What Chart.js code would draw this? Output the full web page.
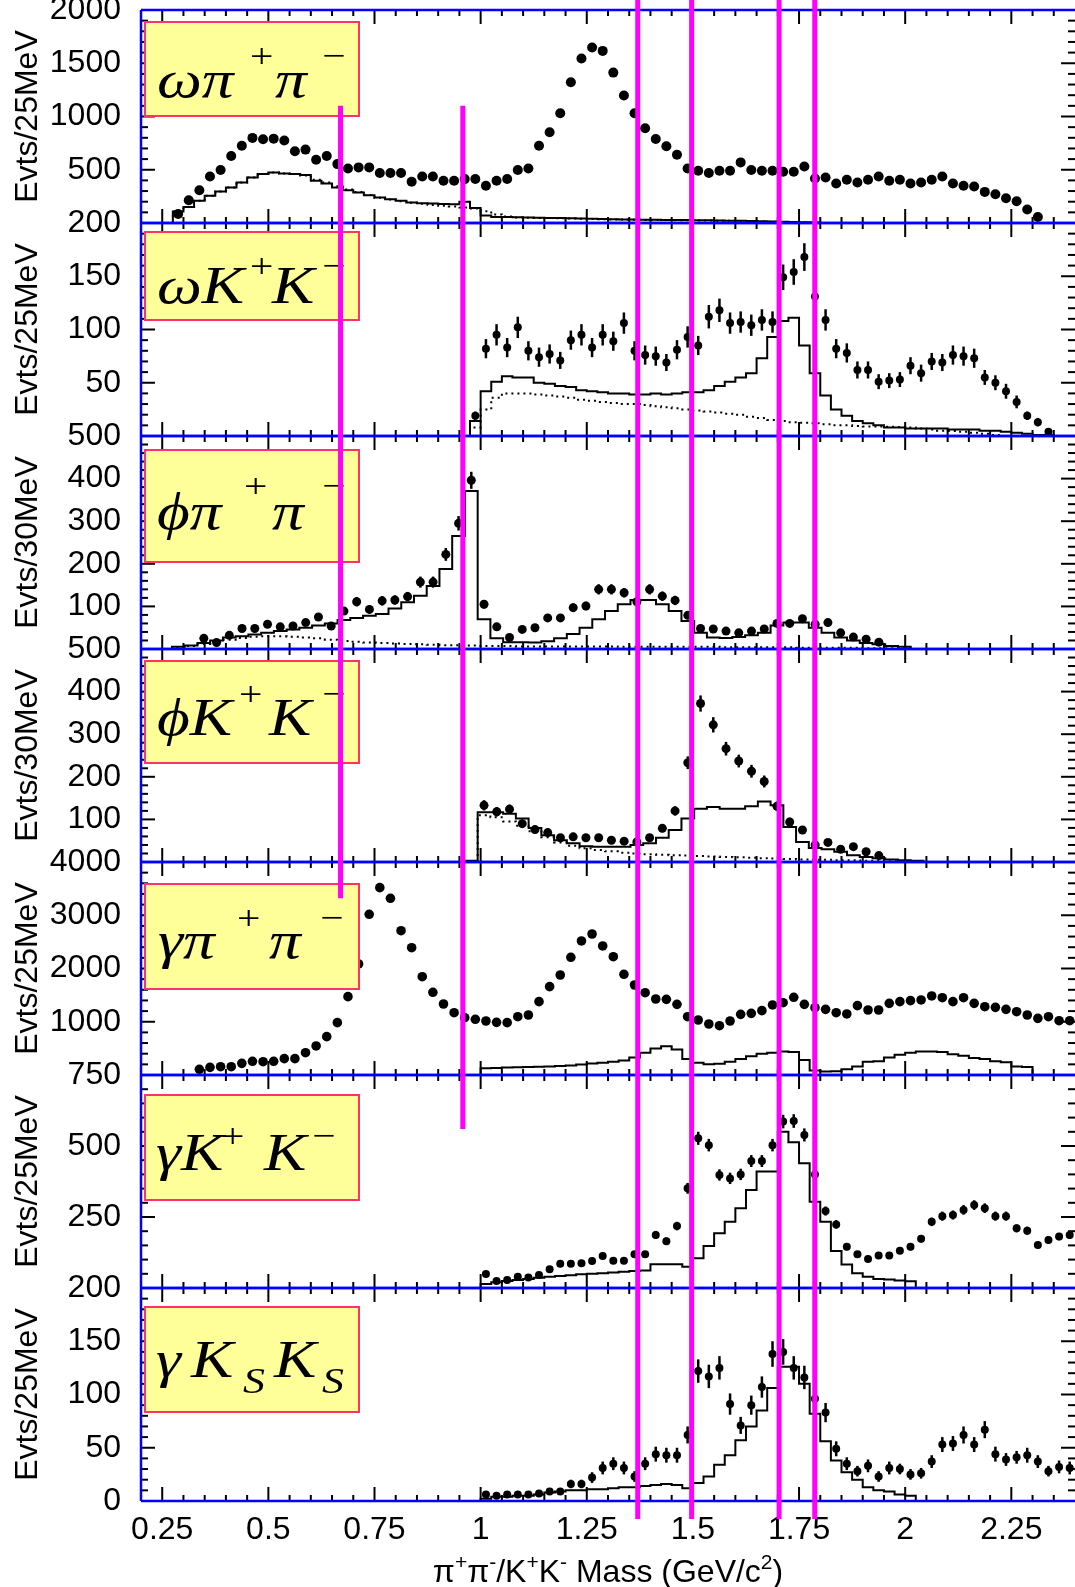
<!DOCTYPE html>
<html>
<head>
<meta charset="utf-8">
<script src="https://cdn.jsdelivr.net/npm/chart.js@4/dist/chart.umd.min.js"></script>
<style>
  html, body { margin: 0; padding: 0; background: #fff; overflow: hidden; }
</style>
</head>
<body>
<canvas id="massChart" width="1075" height="1587"></canvas>
<script>
// ---------------- data ----------------
var massTicks = [0.25, 0.5, 0.75, 1, 1.25, 1.5, 1.75, 2, 2.25];
var markMass = [0.67, 0.958, 1.37, 1.497, 1.703, 1.787];

// omega pi+ pi-  (25 MeV)
var omPiPiCounts = [85,214,308,437,497,629,726,799,786,792,
  774,673,689,594,629,553,512,522,522,469,
  469,469,387,437,437,396,396,412,413,349,
  396,413,497,512,726,852,1031,1321,1544,1648,
  1616,1412,1198,1031,890,789,720,641,512,491,
  469,491,491,569,497,491,491,481,481,531,
  418,427,371,406,380,406,437,396,406,371,
  380,406,437,371,349,343,292,270,233,204,
  126,57];
var omPiPiFit = [107,151,208,255,295,333,380,428,459,475,
  465,459,450,396,371,333,308,286,261,239,
  223,208,192,185,182,178,176,200,140,70,
  57,56,54,52,50,48,46,44,42,40,
  37,35,33,32,31,30,29,28,27,26,
  25,24,22,20,18,16,14,12,10,8,5];
var omPiPiBkg = [107,151,208,255,295,333,380,428,459,475,
  465,459,445,405,380,345,315,290,262,238,
  220,205,190,180,170,162,155,145,135,110,
  80,60,52,50,48,46,44,42,40,38,
  36,34,32,30,29,28,27,26,25,24,
  23,22,20,18,16,14,12,10,8,6,4];

// omega K+ K-  (25 MeV)
var omKKCounts = [19,82,95,83,102,80,74,77,71,90,
  95,83,95,89,106,80,76,75,69,81,
  93,85,112,118,106,107,104,109,107,149,
  154,168,131,109,82,78,62,62,51,52,
  53,66,59,70,69,76,75,73,55,50,
  42,32,19,13,4];
var omKKErr = [4,9,10,9,10,9,9,9,8,9,
  10,9,10,9,10,9,9,9,8,9,
  10,9,11,11,10,10,10,10,10,12,
  12,13,11,10,9,9,8,8,7,7,
  7,8,8,8,8,9,9,9,7,7,
  7,6,4,4,2];
var omKKFit = [14,42,51,56,55,55,50,49,47,46,
  43,42,41,40,40,39,39,40,39,40,
  41,41,43,47,51,55,59,73,93,108,
  111,85,59,38,25,19,14,12,10,8,
  8,7,7,7,7,6,6,6,5,5,4,3,2,1,1];
var omKKBkg = [8,25,36,40,40,40,39,38,37,36,
  34,33,32,31,30,30,29,28,27,26,
  25,24,23,22,21,20,18,17,15,14,
  13,12.5,12,11,10,10,9.5,9,9,8.7,
  8.5,8,7,6,5,4.7,4,3,2,1];

// phi pi+ pi-  (30 MeV)
var phiPiPiCounts = [25,15,32,48,48,58,52,54,62,75,
  54,89,111,93,113,115,123,157,157,222,
  295,396,105,52,27,46,50,73,73,97,
  101,140,140,132,111,140,124,114,79,48,
  47,42,38,42,47,60,60,71,58,62,
  38,28,23,16];
var phiPiPiErr = [5,4,6,7,7,8,7,7,8,9,
  7,9,11,10,11,11,11,13,13,15,
  17,20,10,7,5,7,7,9,9,10,
  10,12,12,11,11,12,11,11,9,7,
  7,6,6,6,7,8,8,8,8,8,
  6,5,5,4];
var phiPiPiFit = [5,8,14,20,27,30,34,38,42,46,
  50,55,60,68,73,78,82,95,110,125,
  148,188,265,371,70,25,16,16,15,18,
  25,35,50,70,89,105,115,115,105,89,
  66,38,27,26,28,32,38,55,62,62,
  50,38,27,20,14,11,7,5];
var phiPiPiBkg = [4,7,12,17,22,26,29,30,30,29,
  27,25,22,19,17,15,14,13,12,11,
  10,9,9,8,7,7,7,6,6,6,
  6,6,6,6,6,5,5,5,5,5,
  5,5,5,4,4,4,4,4,4,3,
  3,3,3,3,2,2,2,2];

// phi K+ K-  (30 MeV)
var phiKKCounts = [133,118,124,90,76,69,57,59,57,57,
  51,49,47,57,79,120,233,372,322,266,
  237,213,189,131,94,75,40,46,30,36,
  24,15];
var phiKKErr = [12,11,11,9,9,8,8,8,8,8,
  7,7,7,8,9,11,15,19,18,16,
  15,15,14,11,10,9,6,7,5,6,
  5,4];
var phiKKFit = [3,117,117,113,102,80,63,51,44,37,
  36,36,36,40,44,57,75,102,125,129,
  125,125,131,142,133,82,47,33,30,24,
  16,12,9,6,4,3];
var phiKKBkg = [110,105,95,85,72,58,46,38,32,28,
  25,22,20,18,17,16,15,14,13,12,
  11,10,9,8,7,6,5,5,4,4,
  3,3,2,2];

// gamma pi+ pi-  (25 MeV)
var gamPiPiCounts = [107,144,156,156,219,257,250,257,307,307,
  419,545,720,983,1471,2085,3018,3518,3318,2710,
  2391,1846,1553,1333,1170,1076,1046,1014,989,983,
  1095,1127,1377,1659,1878,2210,2517,2648,2423,2222,
  1891,1690,1546,1427,1421,1327,1095,1033,958,926,
  1014,1139,1158,1208,1315,1358,1459,1327,1264,1233,
  1170,1146,1302,1221,1221,1346,1377,1396,1409,1484,
  1452,1377,1452,1346,1283,1270,1233,1189,1127,1064,
  1095,1020,1020];
var gamPiPiFit = [125,130,140,145,150,155,160,170,180,195,
  215,230,250,270,330,420,500,540,480,300,
  230,200,210,250,300,350,400,420,440,430,
  280,85,65,70,110,160,250,260,330,380,
  420,440,440,430,390,360,320,300,260,240,
  160,150];

// gamma K+ K-  (25 MeV)
var gamKKCounts = [49,25,28,40,37,46,66,85,85,87,
  95,113,96,96,119,119,187,165,218,351,
  527,503,398,386,400,447,447,503,586,588,
  539,400,271,224,145,119,102,114,114,131,
  145,173,233,253,257,275,292,281,253,253,
  210,202,151,169,181,187];
var gamKKErr = [7,5,5,6,6,7,8,9,9,9,
  10,11,10,10,11,11,14,13,15,19,
  23,22,20,20,20,21,21,22,24,24,
  23,20,16,15,12,11,10,11,11,11,
  12,13,15,16,16,17,17,17,16,16,
  14,14,12,13,13,14];
var gamKKFit = [14,20,25,28,32,36,40,42,45,48,
  50,52,55,57,60,62,84,84,84,75,
  105,148,193,233,281,345,410,410,550,513,
  439,304,233,130,83,52,40,32,30,26,24];

// gamma Ks Ks  (25 MeV)
var gamKsKsCounts = [6,5,6,6,6,7,9,9,16,16,
  22,31,35,31,23,35,44,43,43,62,
  122,117,125,91,71,90,107,138,140,125,
  116,96,83,49,35,28,33,23,31,30,
  25,26,37,53,54,62,53,67,44,39,
  41,43,37,28,32,31];
var gamKsKsErr = [2,2,2,2,2,3,3,3,4,4,
  5,6,6,6,5,6,7,7,7,8,
  11,11,11,10,8,9,10,12,12,11,
  11,10,9,7,6,5,6,5,6,5,
  5,5,6,7,7,8,7,8,7,6,
  6,7,6,5,6,6];
var gamKsKsFit = [2,4,4,5,5,6,8,9,10,10,
  11,11,12,13,13,14,15,16,15,12,
  17,23,34,43,57,70,85,106,126,126,
  110,82,56,38,27,20,13,10,9,6,5];

// ---------------- panels ----------------
var SANS = '"Liberation Sans", Arial, sans-serif';
var SERIF = '"Liberation Serif", "Times New Roman", serif';

var panels = [
  {axis: 'y1', max: 2000, ticks: [0, 500, 1000, 1500, 2000], minor: 100, unit: 'Evts/25MeV',
   bin: 0.025, first: 0.2875, counts: omPiPiCounts, err: null, radius: 5,
   fitEdge: 0.275, fit: omPiPiFit, bkgEdge: 0.275, bkg: omPiPiBkg},
  {axis: 'y2', max: 200, ticks: [0, 50, 100, 150, 200], minor: 10, unit: 'Evts/25MeV',
   bin: 0.025, first: 0.9875, counts: omKKCounts, err: omKKErr, radius: 4,
   fitEdge: 0.975, fit: omKKFit, bkgEdge: 0.975, bkg: omKKBkg},
  {axis: 'y3', max: 500, ticks: [0, 100, 200, 300, 400, 500], minor: 20, unit: 'Evts/30MeV',
   bin: 0.03, first: 0.348, counts: phiPiPiCounts, err: phiPiPiErr, radius: 4.5,
   fitEdge: 0.273, fit: phiPiPiFit, bkgEdge: 0.273, bkg: phiPiPiBkg},
  {axis: 'y4', max: 500, ticks: [0, 100, 200, 300, 400, 500], minor: 20, unit: 'Evts/30MeV',
   bin: 0.03, first: 1.008, counts: phiKKCounts, err: phiKKErr, radius: 4.5,
   fitEdge: 0.963, fit: phiKKFit, bkgEdge: 0.993, bkg: phiKKBkg},
  {axis: 'y5', max: 4000, ticks: [0, 1000, 2000, 3000, 4000], minor: 200, unit: 'Evts/25MeV',
   bin: 0.025, first: 0.3375, counts: gamPiPiCounts, err: null, radius: 4.8,
   fitEdge: 1.0, fit: gamPiPiFit, bkgEdge: null, bkg: null},
  {axis: 'y6', max: 750, ticks: [0, 250, 500, 750], minor: 50, unit: 'Evts/25MeV',
   bin: 0.025, first: 1.0125, counts: gamKKCounts, err: gamKKErr, radius: 4,
   fitEdge: 1.0, fit: gamKKFit, bkgEdge: null, bkg: null},
  {axis: 'y7', max: 200, ticks: [0, 50, 100, 150, 200], minor: 10, unit: 'Evts/25MeV',
   bin: 0.025, first: 1.0125, counts: gamKsKsCounts, err: gamKsKsErr, radius: 4,
   fitEdge: 1.0, fit: gamKsKsFit, bkgEdge: null, bkg: null}
];

// channel label boxes: offsets inside each panel (px)
var boxes = [
  {top: 12, h: 94, base: 87, raise: 30, parts: [['ωπ', 16], ['+', 109, 'sup'], ['π', 134], ['−', 181, 'sup']]},
  {top: 9, h: 88, base: 80, raise: 26, parts: [['ωK', 16], ['+', 109, 'sup'], ['K', 131], ['−', 181, 'sup']]},
  {top: 14, h: 112, base: 93, raise: 32, parts: [['ϕπ', 16], ['+', 103, 'sup'], ['π', 131], ['−', 181, 'sup']]},
  {top: 12, h: 102, base: 86, raise: 30, parts: [['ϕK', 16], ['+', 98, 'sup'], ['K', 128], ['−', 181, 'sup']]},
  {top: 22, h: 105, base: 96, raise: 29, parts: [['γπ', 17], ['+', 96, 'sup'], ['π', 128], ['−', 179, 'sup']]},
  {top: 20, h: 105, base: 95, raise: 23, parts: [['γK', 15], ['+', 80, 'sup'], ['K', 123], ['−', 171, 'sup']]},
  {top: 19, h: 105, base: 89, raise: -16, parts: [['γ', 15], ['K', 50], ['S', 102, 'sub'], ['K', 133], ['S', 181, 'sub']]}
];

// magenta marker lines: [axis, value] at both ends
var markTop = [['y1', 1100], ['y1', 1100], ['y1', 2110], ['y1', 2110], ['y1', 2110], ['y1', 2110]];
var markEnd = [['y5', 3320], ['y6', 560], ['y7', -17], ['y7', -17], ['y7', -17], ['y7', -17]];

function binCentres(first, step, n) {
  var xs = [];
  for (var i = 0; i < n; i++) xs.push(first + i * step);
  return xs;
}
function toPoints(first, step, counts) {
  var xs = binCentres(first, step, counts.length);
  return counts.map(function (c, i) { return {x: xs[i], y: c}; });
}
function toSteps(edge, step, counts) {
  var pts = [{x: edge, y: 0}];
  counts.forEach(function (c, i) { pts.push({x: edge + i * step, y: c}); });
  pts.push({x: edge + counts.length * step, y: 0});
  return pts;
}

var datasets = [];
panels.forEach(function (p) {
  datasets.push({
    type: 'line', yAxisID: p.axis, data: toPoints(p.first, p.bin, p.counts), errs: p.err,
    showLine: false, pointRadius: p.radius, pointHoverRadius: p.radius,
    pointBackgroundColor: '#000', pointBorderWidth: 0, order: 0
  });
  datasets.push({
    type: 'line', yAxisID: p.axis, data: toSteps(p.fitEdge, p.bin, p.fit),
    stepped: true, borderColor: '#000', borderWidth: 2, pointRadius: 0, fill: false, order: 1
  });
  if (p.bkg) {
    datasets.push({
      type: 'line', yAxisID: p.axis, data: toSteps(p.bkgEdge, p.bin, p.bkg),
      stepped: true, borderColor: '#000', borderWidth: 2, borderDash: [2, 4],
      pointRadius: 0, fill: false, order: 2
    });
  }
});

var scales = {
  x: {
    type: 'linear', position: 'bottom', min: 0.2, max: 2.4,
    afterFit: function (s) { s.height = 86; s.paddingLeft = 0; s.paddingRight = 0; s.paddingTop = 0; s.paddingBottom = 0; },
    afterBuildTicks: function (s) { s.ticks = massTicks.map(function (v) { return {value: v}; }); },
    grid: {display: false, drawTicks: false}, border: {display: false},
    ticks: {autoSkip: false, maxRotation: 0, padding: 10, color: '#000', font: {size: 32},
            callback: function (v) { return String(v); }}
  }
};
panels.forEach(function (p, i) {
  scales[p.axis] = {
    type: 'linear', position: 'left', stack: 'panels', stackWeight: 1, weight: panels.length - i,
    min: 0, max: p.max,
    afterFit: function (s) { s.width = 141; s.paddingTop = 0; s.paddingBottom = 0; s.paddingLeft = 0; s.paddingRight = 0; },
    afterBuildTicks: function (s) { s.ticks = p.ticks.map(function (v) { return {value: v}; }); },
    grid: {display: false, drawTicks: false}, border: {display: false},
    ticks: {autoSkip: false, padding: 20, color: '#000', font: {size: 32},
            callback: function (v) { return (v === 0 && i < panels.length - 1) ? '' : String(v); }},
    title: {display: true, text: p.unit, color: '#000', font: {size: 32}, padding: {top: 9, bottom: 0}}
  };
});

function seg(ctx, x1, y1, x2, y2) {
  ctx.beginPath(); ctx.moveTo(x1, y1); ctx.lineTo(x2, y2); ctx.stroke();
}

function drawMassTitle(ctx, cx, base) {
  var parts = [['π'], ['+', 1], ['π'], ['-', 1], ['/K'], ['+', 1], ['K'], ['-', 1],
               [' Mass (GeV/c'], ['2', 1], [')']];
  var big = '32px ' + SANS, small = '21px ' + SANS, total = 0;
  parts.forEach(function (pc) { ctx.font = pc[1] ? small : big; pc.w = ctx.measureText(pc[0]).width; total += pc.w; });
  var x = cx - total / 2;
  ctx.fillStyle = '#000'; ctx.textBaseline = 'alphabetic'; ctx.textAlign = 'left';
  parts.forEach(function (pc) {
    ctx.font = pc[1] ? small : big;
    ctx.fillText(pc[0], x, pc[1] ? base - 13 : base);
    x += pc.w;
  });
}

var panelDecor = {
  id: 'panelDecor',
  afterDatasetsDraw: function (chart) {
    var ctx = chart.ctx, xs = chart.scales.x;
    ctx.save();
    ctx.strokeStyle = '#000'; ctx.lineWidth = 2.5;
    chart.data.datasets.forEach(function (ds) {
      if (!ds.errs) return;
      var ys = chart.scales[ds.yAxisID];
      ds.data.forEach(function (pt, i) {
        var px = xs.getPixelForValue(pt.x);
        seg(ctx, px, ys.getPixelForValue(pt.y - ds.errs[i]), px, ys.getPixelForValue(pt.y + ds.errs[i]));
      });
    });
    ctx.restore();
  },
  afterDraw: function (chart) {
    var ctx = chart.ctx, xs = chart.scales.x, area = chart.chartArea;
    ctx.save();
    // tick marks
    ctx.strokeStyle = '#000'; ctx.lineWidth = 2;
    panels.forEach(function (p) {
      var ys = chart.scales[p.axis];
      for (var i = 5; i < 48; i++) {
        var px = xs.getPixelForValue(i * 0.05), len = (i % 5 === 0) ? 14 : 6;
        seg(ctx, px, ys.top, px, ys.top + len);
        seg(ctx, px, ys.bottom, px, ys.bottom - len);
      }
      for (var v = 0; v <= p.max; v += p.minor) {
        var py = ys.getPixelForValue(v), l = (p.ticks.indexOf(v) >= 0) ? 14 : 7;
        seg(ctx, area.left, py, area.left + l, py);
        seg(ctx, area.right, py, area.right - l, py);
      }
    });
    // blue frame
    ctx.strokeStyle = '#0000ff'; ctx.lineWidth = 2.5;
    panels.forEach(function (p) {
      var ys = chart.scales[p.axis];
      seg(ctx, area.left, ys.top, area.right, ys.top);
      seg(ctx, area.left, ys.bottom, area.right, ys.bottom);
    });
    seg(ctx, area.left, area.top, area.left, area.bottom);
    // channel boxes
    panels.forEach(function (p, i) {
      var ys = chart.scales[p.axis], b = boxes[i];
      var bx = area.left + 4, by = ys.top + b.top;
      ctx.fillStyle = '#ffff99'; ctx.fillRect(bx, by, 214, b.h);
      ctx.strokeStyle = '#ff3366'; ctx.lineWidth = 2; ctx.strokeRect(bx, by, 214, b.h);
      ctx.fillStyle = '#000'; ctx.textBaseline = 'alphabetic'; ctx.textAlign = 'left';
      b.parts.forEach(function (pc) {
        var y = ys.top + b.base;
        if (pc[2] === 'sup') {
          ctx.font = '34px ' + SERIF; y -= b.raise;
        } else if (pc[2] === 'sub') {
          ctx.font = 'italic 36px ' + SERIF; y -= b.raise;
        } else {
          ctx.font = 'italic 52px ' + SERIF;
        }
        ctx.save();
        ctx.translate(area.left + pc[1], y);
        ctx.scale(1.22, 1);
        ctx.fillText(pc[0], 0, 0);
        ctx.restore();
      });
    });
    // magenta markers
    ctx.strokeStyle = '#ff00ff'; ctx.lineWidth = 5;
    markMass.forEach(function (m, i) {
      var px = xs.getPixelForValue(m);
      var y1 = chart.scales[markTop[i][0]].getPixelForValue(markTop[i][1]);
      var y2 = chart.scales[markEnd[i][0]].getPixelForValue(markEnd[i][1]);
      seg(ctx, px, y1, px, y2);
    });
    drawMassTitle(ctx, 608, 1582);
    ctx.restore();
  }
};

Chart.defaults.font.family = SANS;

new Chart(document.getElementById('massChart').getContext('2d'), {
  type: 'line',
  data: {datasets: datasets},
  options: {
    responsive: false,
    devicePixelRatio: 1,
    animation: false,
    events: [],
    layout: {autoPadding: false, padding: {top: 10, left: 0, right: -3, bottom: 0}},
    plugins: {legend: {display: false}, tooltip: {enabled: false}},
    scales: scales
  },
  plugins: [panelDecor]
});
</script>
</body>
</html>
